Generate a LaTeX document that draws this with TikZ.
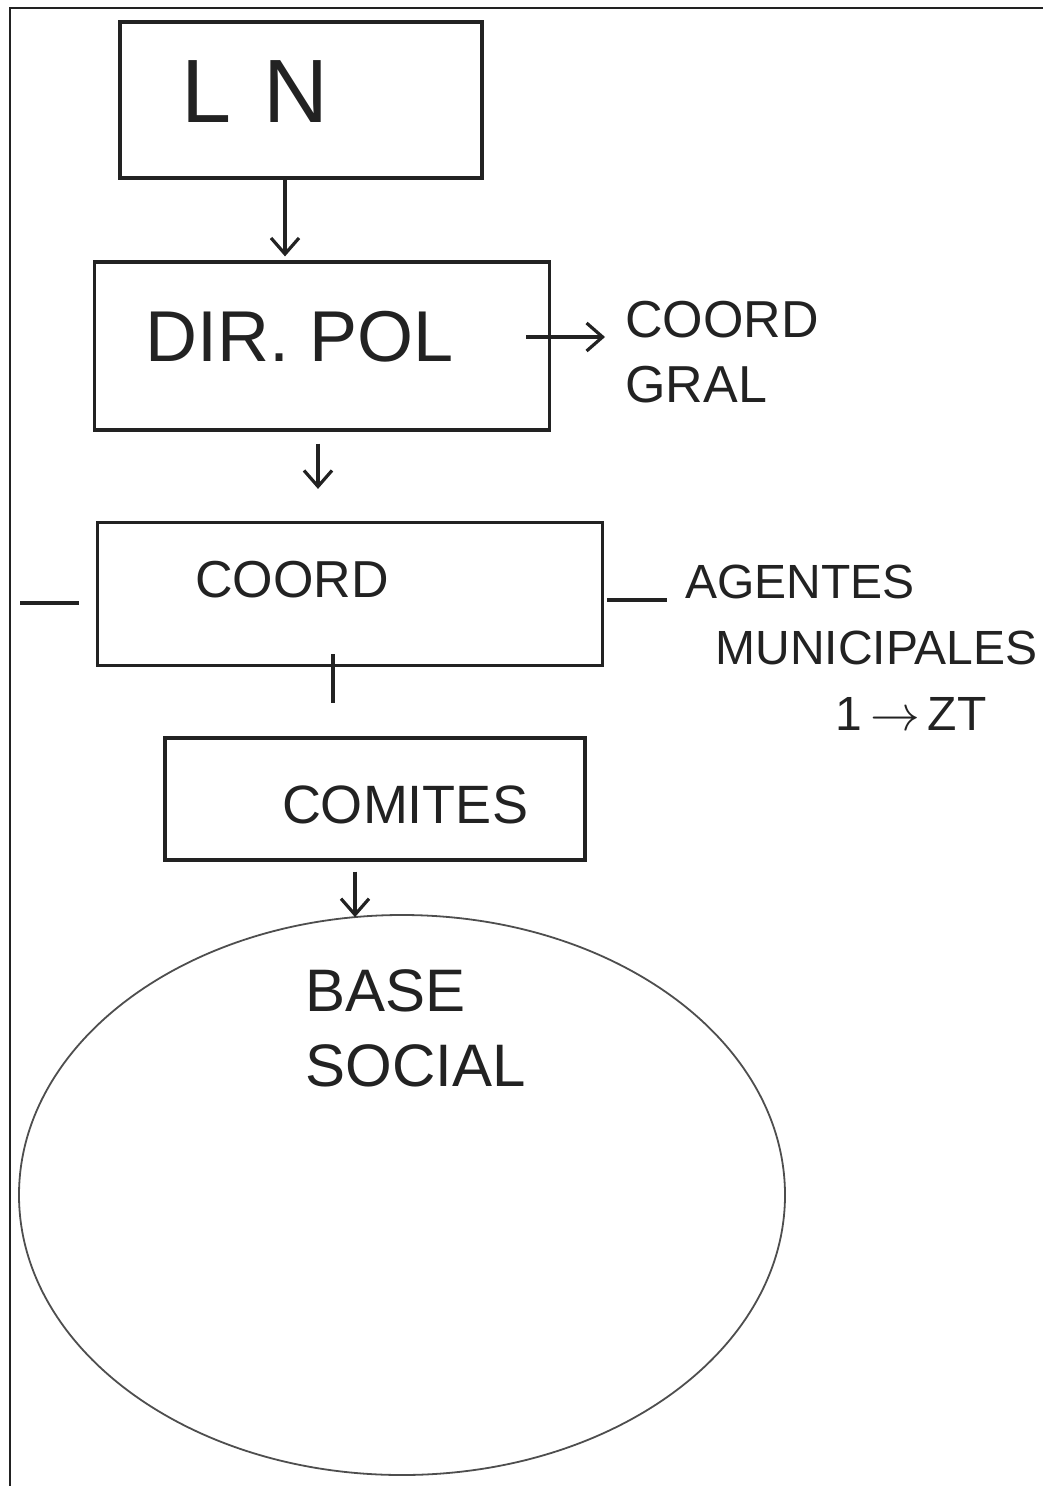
\documentclass[tikz,border=0pt]{standalone}
\usepackage{fontspec}
\setmainfont{Liberation Sans}
\usetikzlibrary{shapes.geometric,arrows.meta,calc}
\definecolor{ink}{HTML}{222222}
\begin{document}
\begin{tikzpicture}[x=0.5pt,y=-0.5pt,
  box/.style={draw=ink,line width=1.6pt,rectangle,inner sep=0pt},
  lbl/.style={inner sep=0pt,text=ink},
  link/.style={draw=ink,line width=1.6pt},
  arr/.style={link,-{Straight Barb[length=8pt,width=14pt,line width=1.6pt]}}]
\useasboundingbox (0,0) rectangle (1043,1486);
\draw[line width=1.2pt,ink] (10,1486) -- (10,8) -- (1043,8);
% boxes
\node[box,minimum width=181pt,minimum height=78pt] (ln) at (301,100) {};
\node[box,minimum width=227.5pt,minimum height=84pt] (dir) at (322,346) {};
\node[box,minimum width=252.5pt,minimum height=71.5pt] (coord) at (350,594) {};
\node[box,minimum width=210pt,minimum height=61pt] (comites) at (375,799) {};
\node[draw=ink!80,line width=0.9pt,ellipse,inner sep=0pt,minimum width=383pt,minimum height=280pt] (base) at (402,1195) {};
% texts
\node[lbl,font=\fontsize{45}{50}\selectfont] (tln) at (255,92) {L\hspace{0.35em}N};
\node[lbl,font=\fontsize{36}{40}\selectfont] (tdir) at (300,337) {DIR.\ POL};
\node[lbl,font=\fontsize{26}{32.5}\selectfont,align=left,anchor=west] (gral) at (625,352) {COORD\\GRAL};
\node[lbl,font=\fontsize{26}{30}\selectfont] (tcoord) at (292,580) {COORD};
\node[lbl,font=\fontsize{24}{33}\selectfont,align=left,anchor=west] (agentes) at (685,648) {AGENTES\\\hspace*{15pt}MUNICIPALES\\\hspace*{75pt}1\,$\to$\,ZT};
\node[lbl,font=\fontsize{27}{30}\selectfont] (tcomites) at (405,805) {COMITES};
\node[lbl,font=\fontsize{30}{37.5}\selectfont,align=left,anchor=west] (tbase) at (305,1028) {BASE\\SOCIAL};
% connectors
\draw[arr] ($(ln.south)+(-16,0)$) -- ($(dir.north)+(-37,-4)$);
\draw[arr] ($(dir.east)+(-25,-9)$) -- ($(gral.west)+(-20,-15)$);
\draw[arr] ($(dir.south)+(-4,12)$) -- ($(coord.north)+(-32,-32)$);
\coordinate (lend) at (20,603);
\draw[link] (lend) -- ($(coord.west)+(-17,9)$);
\draw[link] ($(coord.east)+(3,6)$) -- ($(agentes.west)+(-18,-48)$);
\draw[link] ($(coord.south)+(-17,-13)$) -- ($(comites.north)+(-42,-33)$);
\draw[arr] ($(comites.south)+(-20,10)$) -- ($(base.north)+(-47,3)$);
\end{tikzpicture}
\end{document}
